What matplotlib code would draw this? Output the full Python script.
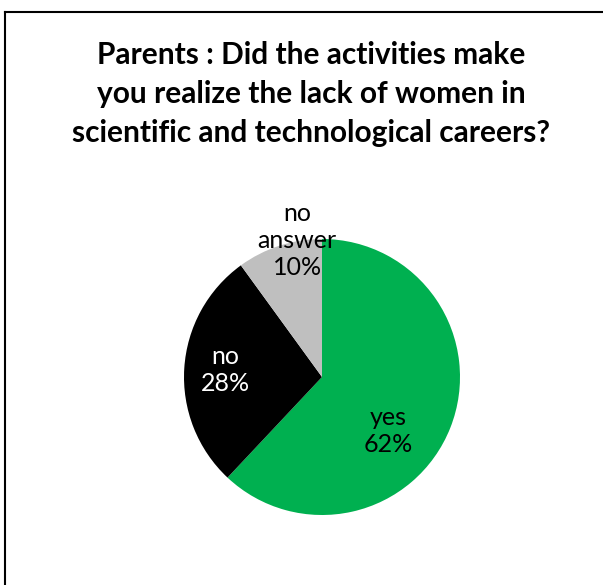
import matplotlib
matplotlib.use("Agg")
import matplotlib.pyplot as plt
from matplotlib.lines import Line2D

categories = ["yes", "no", "no answer"]
values = [62, 28, 10]
colors = ["#00B050", "#000000", "#BFBFBF"]
text_colors = ["black", "white", "black"]
label_pos = [(0.48, -0.39), (-0.70, 0.05), (-0.18, 0.99)]
label_text = ["yes", "no", "no\nanswer"]

W, H = 603, 585
fig = plt.figure(figsize=(W / 100, H / 100), dpi=100)
fig.patch.set_facecolor("white")

FONT = "Lato"

# frame
fig.add_artist(Line2D([5 / W, 1.0], [1 - 12 / H, 1 - 12 / H], color="black", lw=1.5, transform=fig.transFigure))
fig.add_artist(Line2D([5 / W, 5 / W], [1 - 12 / H, 0.0], color="black", lw=1.5, transform=fig.transFigure))

title_lines = ["Parents : Did the activities make",
               "you realize the lack of women in",
               "scientific and technological careers?"]
for i, line in enumerate(title_lines):
    fig.text(311 / W, 1 - (55 + 39 * i) / H, line, ha="center", va="center",
             fontsize=21.5, fontweight="bold", family=FONT, color="black")

cx, cy, R = 322, 377, 138
half = 150
ax = fig.add_axes([(cx - half) / W, (H - cy - half) / H, 2 * half / W, 2 * half / H])
wedges, _ = ax.pie(values, colors=colors, startangle=90, counterclock=False, radius=1.0)
ax.set_xlim(-half / R, half / R)
ax.set_ylim(-half / R, half / R)
ax.set_aspect("auto")
ax.axis("off")

for (x, y), name, v, tc in zip(label_pos, label_text, values, text_colors):
    ax.text(x, y, f"{name}\n{v}%", ha="center", va="center", fontsize=18,
            family=FONT, color=tc, linespacing=1.22)

fig.savefig("out.png", dpi=100, facecolor="white")
